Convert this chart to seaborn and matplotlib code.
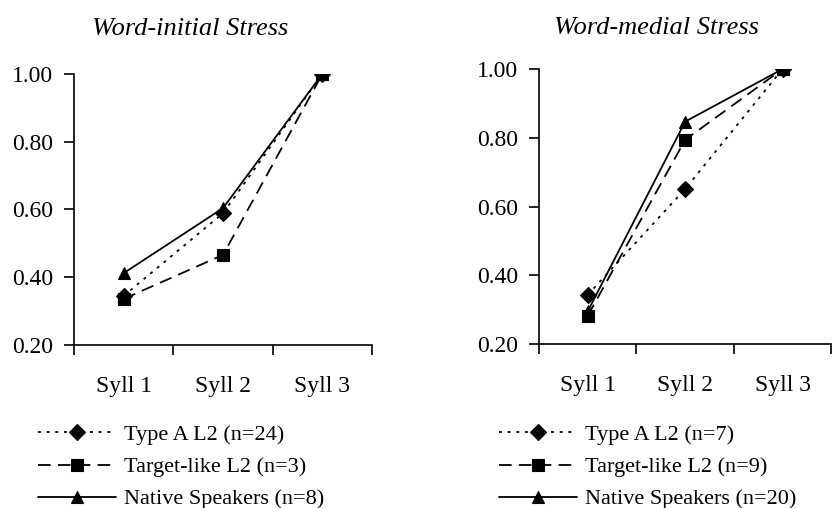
import matplotlib
matplotlib.use("Agg")
import matplotlib.pyplot as plt
import seaborn as sns
import pandas as pd

# ---- data ----
sylls = ["Syll 1", "Syll 2", "Syll 3"]
y_ticks = [0.20, 0.40, 0.60, 0.80, 1.00]

initial_title = "Word-initial Stress"
initial_groups = ["Type A L2 (n=24)", "Target-like L2 (n=3)", "Native Speakers (n=8)"]
initial_typeA = [0.345, 0.589, 1.00]
initial_target = [0.336, 0.466, 1.00]
initial_native = [0.412, 0.604, 1.00]

medial_title = "Word-medial Stress"
medial_groups = ["Type A L2 (n=7)", "Target-like L2 (n=9)", "Native Speakers (n=20)"]
medial_typeA = [0.343, 0.651, 1.00]
medial_target = [0.282, 0.794, 1.00]
medial_native = [0.295, 0.847, 1.00]


def long_df(groups, series):
    rows = []
    for g, vals in zip(groups, series):
        for s, v in zip(sylls, vals):
            rows.append({"syll": s, "value": v, "group": g})
    return pd.DataFrame(rows)


sns.set_theme(style="ticks")
plt.rcParams["font.family"] = ["Liberation Serif", "DejaVu Serif"]
plt.rcParams["text.color"] = "black"
plt.rcParams["axes.edgecolor"] = "black"
plt.rcParams["xtick.color"] = "black"
plt.rcParams["ytick.color"] = "black"
plt.rcParams["axes.labelcolor"] = "black"

fig = plt.figure(figsize=(8.33, 5.08), dpi=100)
axL = fig.add_axes([0.0888, 0.3209, 0.3578, 0.5334])
axR = fig.add_axes([0.647, 0.3228, 0.351, 0.5413])

panels = [
    (axL, initial_title, initial_groups, [initial_typeA, initial_target, initial_native], 0.228, 0.942, 0.046),
    (axR, medial_title, medial_groups, [medial_typeA, medial_target, medial_native], 0.7875, 0.944, 0.599),
]

for ax, title, groups, series, tx, ty, lx in panels:
    df = long_df(groups, series)
    markers = {groups[0]: "D", groups[1]: "s", groups[2]: "^"}
    dashes = {groups[0]: (1.6, 3.2), groups[1]: (7, 4), groups[2]: ""}
    sns.lineplot(data=df, x="syll", y="value", style="group", style_order=groups,
                 markers=markers, dashes=dashes, color="black", linewidth=1.3,
                 markersize=8.5, markeredgecolor="black", markeredgewidth=0.8,
                 legend=False, ax=ax)
    ax.set_xlim(-0.5, 2.5)
    ax.set_ylim(0.2, 1.0)
    ax.set_xlabel("")
    ax.set_ylabel("")
    ax.set_xticks([-0.5, 0.5, 1.5, 2.5], labels=["", "", "", ""])
    ax.set_xticks([0, 1, 2], labels=sylls, minor=True)
    ax.tick_params(axis="x", which="major", length=7, width=1.2, direction="out")
    ax.tick_params(axis="x", which="minor", length=0, pad=22, labelsize=17)
    ax.set_yticks(y_ticks, labels=[f"{v:.2f}" for v in y_ticks])
    ax.tick_params(axis="y", length=7, width=1.2, direction="out", pad=8, labelsize=17)
    for side in ["top", "right"]:
        ax.spines[side].set_visible(False)
    for side in ["left", "bottom"]:
        ax.spines[side].set_linewidth(1.2)
        ax.spines[side].set_color("black")
    fig.text(tx, ty, title, ha="center", va="center", fontsize=19, style="italic")
    ax.legend(ax.get_lines()[:3], groups, loc="upper left",
              bbox_to_anchor=(lx, 0.164), bbox_transform=fig.transFigure,
              frameon=False, fontsize=16, handlelength=3.5, handletextpad=0.35,
              labelspacing=0.52, borderpad=0, borderaxespad=0)

fig.savefig("out.png", dpi=100)
